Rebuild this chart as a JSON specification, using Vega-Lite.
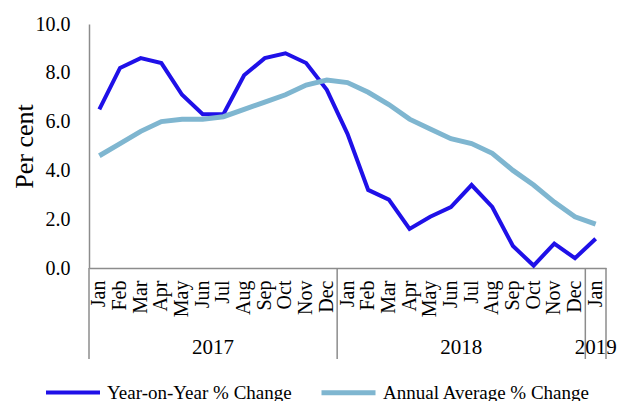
{
  "$schema": "https://vega.github.io/schema/vega-lite/v6.json",
  "width": 517,
  "height": 244,
  "autosize": {"type": "none"},
  "padding": {"left": 89, "top": 24, "right": 18, "bottom": 133},
  "background": "white",
  "config": {
    "font": "Liberation Serif",
    "view": {"stroke": null},
    "axis": {"grid": false, "ticks": false, "domainColor": "#8c8c8c", "domainWidth": 1.5, "labelColor": "black", "titleColor": "black", "labelFont": "Liberation Serif", "titleFont": "Liberation Serif"}
  },
  "datasets": {
    "cpi": [
      {"key": "2017-Jan", "month": "Jan", "year": "2017", "series": "Year-on-Year % Change", "value": 6.5},
      {"key": "2017-Feb", "month": "Feb", "year": "2017", "series": "Year-on-Year % Change", "value": 8.2},
      {"key": "2017-Mar", "month": "Mar", "year": "2017", "series": "Year-on-Year % Change", "value": 8.6},
      {"key": "2017-Apr", "month": "Apr", "year": "2017", "series": "Year-on-Year % Change", "value": 8.4},
      {"key": "2017-May", "month": "May", "year": "2017", "series": "Year-on-Year % Change", "value": 7.1},
      {"key": "2017-Jun", "month": "Jun", "year": "2017", "series": "Year-on-Year % Change", "value": 6.3},
      {"key": "2017-Jul", "month": "Jul", "year": "2017", "series": "Year-on-Year % Change", "value": 6.3},
      {"key": "2017-Aug", "month": "Aug", "year": "2017", "series": "Year-on-Year % Change", "value": 7.9},
      {"key": "2017-Sep", "month": "Sep", "year": "2017", "series": "Year-on-Year % Change", "value": 8.6},
      {"key": "2017-Oct", "month": "Oct", "year": "2017", "series": "Year-on-Year % Change", "value": 8.8},
      {"key": "2017-Nov", "month": "Nov", "year": "2017", "series": "Year-on-Year % Change", "value": 8.4},
      {"key": "2017-Dec", "month": "Dec", "year": "2017", "series": "Year-on-Year % Change", "value": 7.3},
      {"key": "2018-Jan", "month": "Jan", "year": "2018", "series": "Year-on-Year % Change", "value": 5.5},
      {"key": "2018-Feb", "month": "Feb", "year": "2018", "series": "Year-on-Year % Change", "value": 3.2},
      {"key": "2018-Mar", "month": "Mar", "year": "2018", "series": "Year-on-Year % Change", "value": 2.8},
      {"key": "2018-Apr", "month": "Apr", "year": "2018", "series": "Year-on-Year % Change", "value": 1.6},
      {"key": "2018-May", "month": "May", "year": "2018", "series": "Year-on-Year % Change", "value": 2.1},
      {"key": "2018-Jun", "month": "Jun", "year": "2018", "series": "Year-on-Year % Change", "value": 2.5},
      {"key": "2018-Jul", "month": "Jul", "year": "2018", "series": "Year-on-Year % Change", "value": 3.4},
      {"key": "2018-Aug", "month": "Aug", "year": "2018", "series": "Year-on-Year % Change", "value": 2.5},
      {"key": "2018-Sep", "month": "Sep", "year": "2018", "series": "Year-on-Year % Change", "value": 0.9},
      {"key": "2018-Oct", "month": "Oct", "year": "2018", "series": "Year-on-Year % Change", "value": 0.1},
      {"key": "2018-Nov", "month": "Nov", "year": "2018", "series": "Year-on-Year % Change", "value": 1.0},
      {"key": "2018-Dec", "month": "Dec", "year": "2018", "series": "Year-on-Year % Change", "value": 0.4},
      {"key": "2019-Jan", "month": "Jan", "year": "2019", "series": "Year-on-Year % Change", "value": 1.2},
      {"key": "2017-Jan", "month": "Jan", "year": "2017", "series": "Annual Average % Change", "value": 4.6},
      {"key": "2017-Feb", "month": "Feb", "year": "2017", "series": "Annual Average % Change", "value": 5.1},
      {"key": "2017-Mar", "month": "Mar", "year": "2017", "series": "Annual Average % Change", "value": 5.6},
      {"key": "2017-Apr", "month": "Apr", "year": "2017", "series": "Annual Average % Change", "value": 6.0},
      {"key": "2017-May", "month": "May", "year": "2017", "series": "Annual Average % Change", "value": 6.1},
      {"key": "2017-Jun", "month": "Jun", "year": "2017", "series": "Annual Average % Change", "value": 6.1},
      {"key": "2017-Jul", "month": "Jul", "year": "2017", "series": "Annual Average % Change", "value": 6.2},
      {"key": "2017-Aug", "month": "Aug", "year": "2017", "series": "Annual Average % Change", "value": 6.5},
      {"key": "2017-Sep", "month": "Sep", "year": "2017", "series": "Annual Average % Change", "value": 6.8},
      {"key": "2017-Oct", "month": "Oct", "year": "2017", "series": "Annual Average % Change", "value": 7.1},
      {"key": "2017-Nov", "month": "Nov", "year": "2017", "series": "Annual Average % Change", "value": 7.5},
      {"key": "2017-Dec", "month": "Dec", "year": "2017", "series": "Annual Average % Change", "value": 7.7},
      {"key": "2018-Jan", "month": "Jan", "year": "2018", "series": "Annual Average % Change", "value": 7.6},
      {"key": "2018-Feb", "month": "Feb", "year": "2018", "series": "Annual Average % Change", "value": 7.2},
      {"key": "2018-Mar", "month": "Mar", "year": "2018", "series": "Annual Average % Change", "value": 6.7},
      {"key": "2018-Apr", "month": "Apr", "year": "2018", "series": "Annual Average % Change", "value": 6.1},
      {"key": "2018-May", "month": "May", "year": "2018", "series": "Annual Average % Change", "value": 5.7},
      {"key": "2018-Jun", "month": "Jun", "year": "2018", "series": "Annual Average % Change", "value": 5.3},
      {"key": "2018-Jul", "month": "Jul", "year": "2018", "series": "Annual Average % Change", "value": 5.1},
      {"key": "2018-Aug", "month": "Aug", "year": "2018", "series": "Annual Average % Change", "value": 4.7},
      {"key": "2018-Sep", "month": "Sep", "year": "2018", "series": "Annual Average % Change", "value": 4.0},
      {"key": "2018-Oct", "month": "Oct", "year": "2018", "series": "Annual Average % Change", "value": 3.4},
      {"key": "2018-Nov", "month": "Nov", "year": "2018", "series": "Annual Average % Change", "value": 2.7},
      {"key": "2018-Dec", "month": "Dec", "year": "2018", "series": "Annual Average % Change", "value": 2.1},
      {"key": "2019-Jan", "month": "Jan", "year": "2019", "series": "Annual Average % Change", "value": 1.8}
    ]
  },
  "data": {"name": "cpi"},
  "layer": [
    {
      "mark": {"type": "line", "strokeJoin": "miter"},
      "encoding": {
        "x": {
          "field": "key", "type": "ordinal", "sort": null, "bandPosition": 0.5,
          "scale": {"type": "band", "paddingInner": 0, "paddingOuter": 0},
          "axis": {"title": null, "labelAngle": -90, "labelExpr": "substring(datum.value, 5)", "labelFontSize": 20, "labelPadding": 12, "labelOverlap": false, "labelBound": false, "labelFlush": false}
        },
        "y": {
          "field": "value", "type": "quantitative",
          "scale": {"domain": [0, 10], "nice": false, "zero": true},
          "axis": {"title": "Per cent", "values": [0, 2, 4, 6, 8, 10], "format": ".1f", "labelFontSize": 20, "labelPadding": 19, "titleFontSize": 26, "titleFontWeight": "normal", "titlePadding": -2}
        },
        "color": {
          "field": "series", "type": "nominal",
          "scale": {"domain": ["Year-on-Year % Change", "Annual Average % Change"], "range": ["#1f10e8", "#7fb6d0"]},
          "legend": {"title": null, "orient": "none", "legendX": -45, "legendY": 339, "direction": "horizontal", "symbolType": "stroke", "symbolSize": 2916, "symbolStrokeWidth": 5, "labelFontSize": 19, "labelColor": "black", "labelOffset": 5, "columnPadding": 19, "labelLimit": 400}
        },
        "strokeWidth": {
          "field": "series", "type": "nominal",
          "scale": {"domain": ["Year-on-Year % Change", "Annual Average % Change"], "range": [4, 5]},
          "legend": null
        }
      }
    },
    {
      "transform": [{"filter": "datum.month == 'Jan' && datum.series == 'Year-on-Year % Change'"}],
      "mark": {"type": "rule", "color": "#8c8c8c", "strokeWidth": 1.5},
      "encoding": {
        "x": {"field": "key", "type": "ordinal", "sort": null, "bandPosition": 0},
        "y": {"datum": 0},
        "y2": {"datum": -3.73}
      }
    },
    {
      "transform": [{"filter": "datum.key == '2019-Jan' && datum.series == 'Year-on-Year % Change'"}],
      "mark": {"type": "rule", "color": "#8c8c8c", "strokeWidth": 1.5},
      "encoding": {
        "x": {"field": "key", "type": "ordinal", "sort": null, "bandPosition": 1},
        "y": {"datum": 0},
        "y2": {"datum": -3.73}
      }
    },
    {
      "transform": [{"filter": "datum.month == 'Jul' && datum.year != '2019' && datum.series == 'Year-on-Year % Change'"}],
      "mark": {"type": "text", "fontSize": 21, "color": "black", "baseline": "middle", "align": "center"},
      "encoding": {
        "x": {"field": "key", "type": "ordinal", "sort": null, "bandPosition": 0},
        "y": {"datum": -3.28},
        "text": {"field": "year"}
      }
    },
    {
      "transform": [{"filter": "datum.year == '2019' && datum.series == 'Year-on-Year % Change'"}],
      "mark": {"type": "text", "fontSize": 21, "color": "black", "baseline": "middle", "align": "center"},
      "encoding": {
        "x": {"field": "key", "type": "ordinal", "sort": null, "bandPosition": 0.5},
        "y": {"datum": -3.28},
        "text": {"field": "year"}
      }
    }
  ]
}
